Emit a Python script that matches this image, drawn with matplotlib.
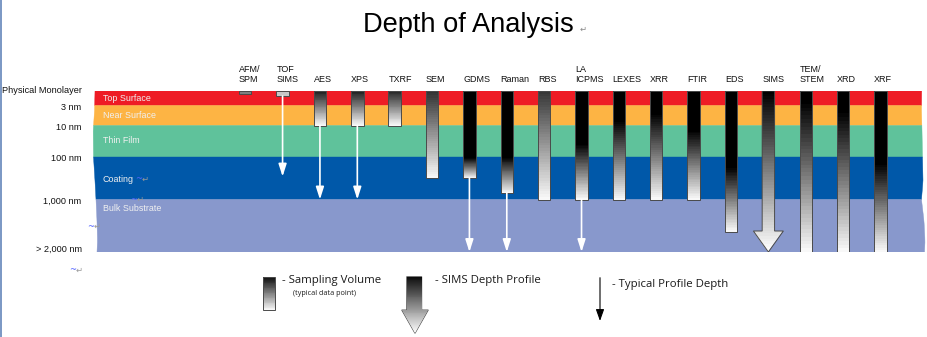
import numpy as np
import matplotlib
matplotlib.use('Agg')
import matplotlib.pyplot as plt
from matplotlib.patches import Rectangle, Polygon

# ---------------- data ----------------
layer_names = ['Top Surface', 'Near Surface', 'Thin Film', 'Coating', 'Bulk Substrate']
layer_colors = ['#EE1C25', '#FDB444', '#5FC29B', '#0058A9', '#8898CC']
depth_labels = ['Physical Monolayer', '3 nm', '10 nm', '100 nm', '1,000 nm', '> 2,000 nm']
depth_label_levels = [-0.14, 1, 2, 3, 4, 4.92]

techniques = ['AFM/\nSPM', 'TOF\nSIMS', 'AES', 'XPS', 'TXRF', 'SEM', 'GDMS', 'Raman', 'RBS',
              'LA\nICPMS', 'LEXES', 'XRR', 'FTIR', 'EDS', 'SIMS', 'TEM/\nSTEM', 'XRD', 'XRF']
kinds = ['marker', 'marker', 'bar', 'bar', 'bar', 'bar', 'bar', 'bar', 'bar',
         'bar', 'bar', 'bar', 'bar', 'bar', 'bigarrow', 'bar', 'bar', 'bar']
# depth (layer units, 0 = surface, 5 = bottom of bulk) where solid black part ends
solid_depth = [0, 0, 0, 0, 0, 0, 3.02, 3.0, 0, 2.57, 1.72, 1.37, 2.14, 3.23, 0, 0.62, 1.22, 3.14]
# depth of the sampling volume bottom
volume_depth = [0.2, 0.35, 2.0, 2.0, 2.0, 3.5, 3.5, 3.85, 4.0, 4.0, 4.0, 4.0, 4.0, 4.61, 5.0, 5.0, 5.0, 5.0]
# typical profile depth (arrow tip), nan = none
profile_depth = [np.nan, 3.46, 4.0, 4.0, np.nan, np.nan, 5.0, 5.0, np.nan, 5.0,
                 np.nan, np.nan, np.nan, np.nan, np.nan, np.nan, np.nan, np.nan]
# grey level at top of gradient (0 black, 1 white)
top_shade = [0.5, 0.78, 0.12, 0.12, 0.15, 0.2, 0.0, 0.0, 0.22, 0.0, 0.0, 0.0, 0.0, 0.0,
             0.0, 0.0, 0.0, 0.0]

# ---------------- layout ----------------
W, H = 927, 337
band_top, band_bot = 91, 252
layer_px = np.array([0, 14.5, 34.5, 66, 108.5, 161])
col_x0, col_step, col_w = 239, 37.37, 12.4
band_label_x = 103
band_label_levels = [0.55, 1.5, 2.47, 3.52, 4.17]
# torn-paper edges of the band (pixel offsets from band top -> x)
edge_py = [0, 20, 40, 66, 90, 108.5, 130, 150, 161]
left_edge_x = [95, 94.5, 93.2, 93.5, 95, 96, 97, 97.5, 97]
right_edge_x = [921.7, 921.5, 922, 922.5, 923, 921.5, 924, 925, 924.5]

lv = np.arange(6.0)
lv_ext = np.concatenate([[-100], lv, [105]])
px_ext = np.concatenate([[-100 * 14.5], layer_px, [161 + 100 * 52.5]])


def fwd(y):
    return np.interp(y, lv_ext, px_ext)


def inv(p):
    return np.interp(p, px_ext, lv_ext)


fig = plt.figure(figsize=(W / 100, H / 100), dpi=100)
fig.patch.set_facecolor('white')

ax = fig.add_axes([0, (H - band_bot) / H, 1, (band_bot - band_top) / H])
ax.set_xlim(0, W)
ax.set_yscale('function', functions=(fwd, inv))
ax.set_ylim(5, 0)
ax.axis('off')

# layers with torn edges
for i, (nm, c) in enumerate(zip(layer_names, layer_colors)):
    py = np.linspace(layer_px[i], layer_px[i + 1], 12)
    xl = np.interp(py, edge_py, left_edge_x)
    xr = np.interp(py, edge_py, right_edge_x)
    yl = inv(py)
    xs = np.concatenate([xl, xr[::-1]])
    ys = np.concatenate([yl, yl[::-1]])
    ax.fill(xs, ys, color=c, lw=0.3, ec=c, zorder=1)
    ax.text(band_label_x, band_label_levels[i], nm, ha='left', va='center',
            fontsize=6.4, color='#f0f0f0', family='Liberation Sans', zorder=2)

# depth labels on the left
for txt, lvl in zip(depth_labels, depth_label_levels):
    ax.annotate(txt, xy=(81.7, lvl), xytext=(0, -1.3), textcoords='offset points',
                ha='right', va='center', fontsize=6.6, color='#111111',
                family='Liberation Sans', annotation_clip=False)

edge_c = '#4a4a4a'
for i, name in enumerate(techniques):
    left = col_x0 + i * col_step
    cx = left + col_w / 2
    s, v, p, t = solid_depth[i], volume_depth[i], profile_depth[i], top_shade[i]
    k = kinds[i]
    if k == 'marker':
        ax.add_patch(Rectangle((left, 0), col_w, v, facecolor=str(t), edgecolor=edge_c,
                               lw=0.7, zorder=4, clip_on=False))
    elif k == 'bar':
        if s > 0:
            ax.fill_between([left, left + col_w], 0, s, color='black', lw=0, zorder=3)
        ye = inv(np.linspace(fwd(s), fwd(v), 41))
        vals = np.linspace(t, 0.97, 40).reshape(-1, 1)
        ax.pcolormesh([left, left + col_w], ye, vals, cmap='gray', vmin=0, vmax=1,
                      shading='flat', zorder=3)
        ax.add_patch(Rectangle((left, 0), col_w, v, fill=False, edgecolor=edge_c,
                               lw=0.7, zorder=4))
    else:  # big arrow for SIMS depth profile
        head_start = inv(fwd(v) - 21)
        hw = 15
        verts = [(left, 0), (left + col_w, 0), (left + col_w, head_start),
                 (cx + hw, head_start), (cx, v), (cx - hw, head_start), (left, head_start)]
        poly = Polygon(verts, closed=True, fill=False, edgecolor=edge_c, lw=0.7, zorder=4,
                       transform=ax.transData)
        ax.add_patch(poly)
        ye = inv(np.linspace(fwd(0), fwd(v), 61))
        vals = np.linspace(t, 1.0, 60).reshape(-1, 1)
        mesh = ax.pcolormesh([cx - hw, cx + hw], ye, vals, cmap='gray', vmin=0, vmax=1,
                             shading='flat', zorder=3)
        mesh.set_clip_path(poly)
    if not np.isnan(p):
        ax.annotate('', xy=(cx, p), xytext=(cx, v),
                    arrowprops=dict(arrowstyle='-|>,head_length=0.75,head_width=0.24',
                                    color='white', lw=1.2, shrinkA=0, shrinkB=0,
                                    mutation_scale=10), zorder=5)
    ax.annotate(name, xy=(left, 0), xycoords='data', xytext=(0, 5.2),
                textcoords='offset points', ha='left', va='bottom', fontsize=6.5,
                color='#111111', family='Liberation Sans', annotation_clip=False,
                linespacing=1.15)

# ---------------- overlay: title, legend, marks ----------------
ov = fig.add_axes([0, 0, 1, 1], zorder=5)
ov.set_xlim(0, W)
ov.set_ylim(H, 0)
ov.axis('off')
ov.patch.set_alpha(0)

ov.text(468, 25, 'Depth of Analysis', fontsize=19.6, family='Liberation Sans',
        ha='center', va='center', color='black')
ov.text(580, 29, '\u21b5', fontsize=6, family='DejaVu Sans', color='#888888',
        ha='left', va='center')

# left window border
ov.plot([0.8, 0.8], [0, H], color='#6f8fbf', lw=1.3)

# word-processor marks
for (x, y) in [(135, 179), (130, 199.3), (86.7, 226.7), (69, 270)]:
    ov.text(x, y, '~', fontsize=6, family='DejaVu Sans', color='#5566ff',
            ha='left', va='center')
    ov.text(x + 7, y, '\u21b5', fontsize=6, family='DejaVu Sans', color='#999999',
            ha='left', va='center')

# legend: sampling volume
ye = np.linspace(276.7, 310, 41)
ov.pcolormesh([263.3, 275], ye, np.linspace(0.05, 0.97, 40).reshape(-1, 1), cmap='gray',
              vmin=0, vmax=1, shading='flat')
ov.add_patch(Rectangle((263.3, 276.7), 11.7, 33.3, fill=False, edgecolor=edge_c, lw=0.7))
ov.text(281.7, 281, '- Sampling Volume', fontsize=8.2, family='Open Sans', va='center',
        ha='left', color='#1a1a1a')
ov.text(293.3, 293.5, '(typical data point)', fontsize=5.2, family='Open Sans',
        va='center', ha='left', color='#1a1a1a')

# legend: SIMS depth profile big arrow
lv_verts = [(406.7, 276.7), (421.7, 276.7), (421.7, 310), (428.3, 310), (415, 333.3),
            (401.7, 310), (406.7, 310)]
lpoly = Polygon(lv_verts, closed=True, fill=False, edgecolor='#555555', lw=0.7,
                transform=ov.transData)
ov.add_patch(lpoly)
lm = ov.pcolormesh([401.7, 428.3], np.linspace(276.7, 333.3, 61),
                   np.linspace(0.05, 1.0, 60).reshape(-1, 1), cmap='gray', vmin=0, vmax=1,
                   shading='flat')
lm.set_clip_path(lpoly)
ov.text(435, 281, '- SIMS Depth Profile', fontsize=8.2, family='Open Sans', va='center',
        ha='left', color='#1a1a1a')

# legend: typical profile depth
ov.annotate('', xy=(600, 321), xytext=(600, 277.7),
            arrowprops=dict(arrowstyle='-|>,head_length=0.7,head_width=0.25',
                            color='black', lw=0.8, shrinkA=0, shrinkB=0, mutation_scale=10))
ov.text(611.7, 285, '- Typical Profile Depth', fontsize=8.2, family='Open Sans',
        va='center', ha='left', color='#1a1a1a')

fig.savefig('out.png', dpi=100, facecolor='white')
